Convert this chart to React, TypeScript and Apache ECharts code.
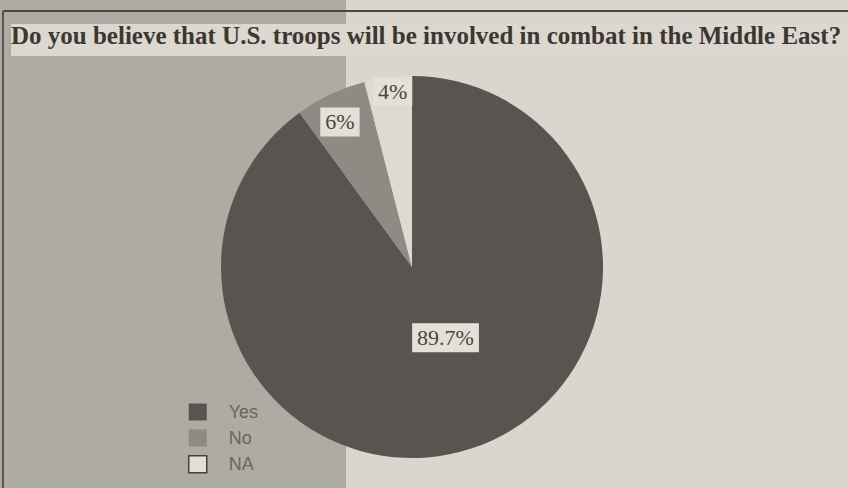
import React, { useEffect, useRef } from "react";
import * as echarts from "echarts";

const titleText = "Do you believe that U.S. troops will be involved in combat in the Middle East?";
const categories = ["Yes", "No", "NA"];
const values = [89.7, 6, 4];
const sliceColors = ["#5a5450", "#8e8a84", "#dedad1"];

export default function App() {
  const ref = useRef<HTMLDivElement>(null);
  useEffect(() => {
    if (!ref.current) return;
    const chart = echarts.init(ref.current, null, { renderer: "svg" });
    const labelShift = [
      { dx: 3, dy: -23 },
      { dx: -30, dy: -56 },
      { dx: -7, dy: -78 },
    ];
    chart.setOption({
      animation: false,
      backgroundColor: "#dad6cd",
      graphic: [
        { type: "rect", shape: { x: 0, y: 0, width: 346, height: 488 }, style: { fill: "#aeaba3" }, z: -10 },
        { type: "rect", shape: { x: 11, y: 24, width: 837, height: 32 }, style: { fill: "#dcd8cf" }, z: -9 },
        { type: "line", shape: { x1: 3, y1: 11, x2: 848, y2: 11 }, style: { stroke: "#4a4541", lineWidth: 2 }, z: -8 },
        { type: "line", shape: { x1: 3, y1: 11, x2: 3, y2: 488 }, style: { stroke: "#5a5550", lineWidth: 2 }, z: -8 },
      ],
      title: {
        text: titleText,
        left: 11,
        top: 23,
        padding: 0,
        textStyle: {
          fontFamily: "Liberation Serif",
          fontWeight: "bold",
          fontSize: 25,
          color: "#3b3733",
        },
      },
      legend: {
        orient: "vertical",
        left: 183,
        top: 398,
        itemWidth: 18,
        itemHeight: 17,
        itemGap: 8,
        icon: "rect",
        selectedMode: false,
        data: [
          { name: "Yes" },
          { name: "No" },
          { name: "NA", itemStyle: { color: "#e2ded5", borderColor: "#45403c", borderWidth: 1.5 } },
        ],
        textStyle: {
          fontFamily: "Liberation Sans",
          fontSize: 18,
          color: "#6a655f",
          padding: [0, 0, 0, 17],
        },
      },
      series: [
        {
          type: "pie",
          center: [412, 267],
          radius: [0, 191],
          startAngle: 90,
          clockwise: true,
          avoidLabelOverlap: false,
          silent: true,
          data: categories.map((c, i) => ({
            name: c,
            value: values[i],
            itemStyle: { color: sliceColors[i] },
          })),
          label: {
            show: true,
            position: "inside",
            formatter: "{c}%",
            fontFamily: "Liberation Serif",
            fontSize: 22,
            color: "#4a4540",
            backgroundColor: "#e4e0d7",
            padding: [4, 5, 3, 5],
          },
          labelLine: { show: false },
          labelLayout: (p: any) => labelShift[p.dataIndex],
        },
      ],
    });
    return () => chart.dispose();
  }, []);
  return (
    <div
      ref={ref}
      style={{ position: "fixed", left: 0, top: 0, width: 848, height: 488 }}
    />
  );
}
